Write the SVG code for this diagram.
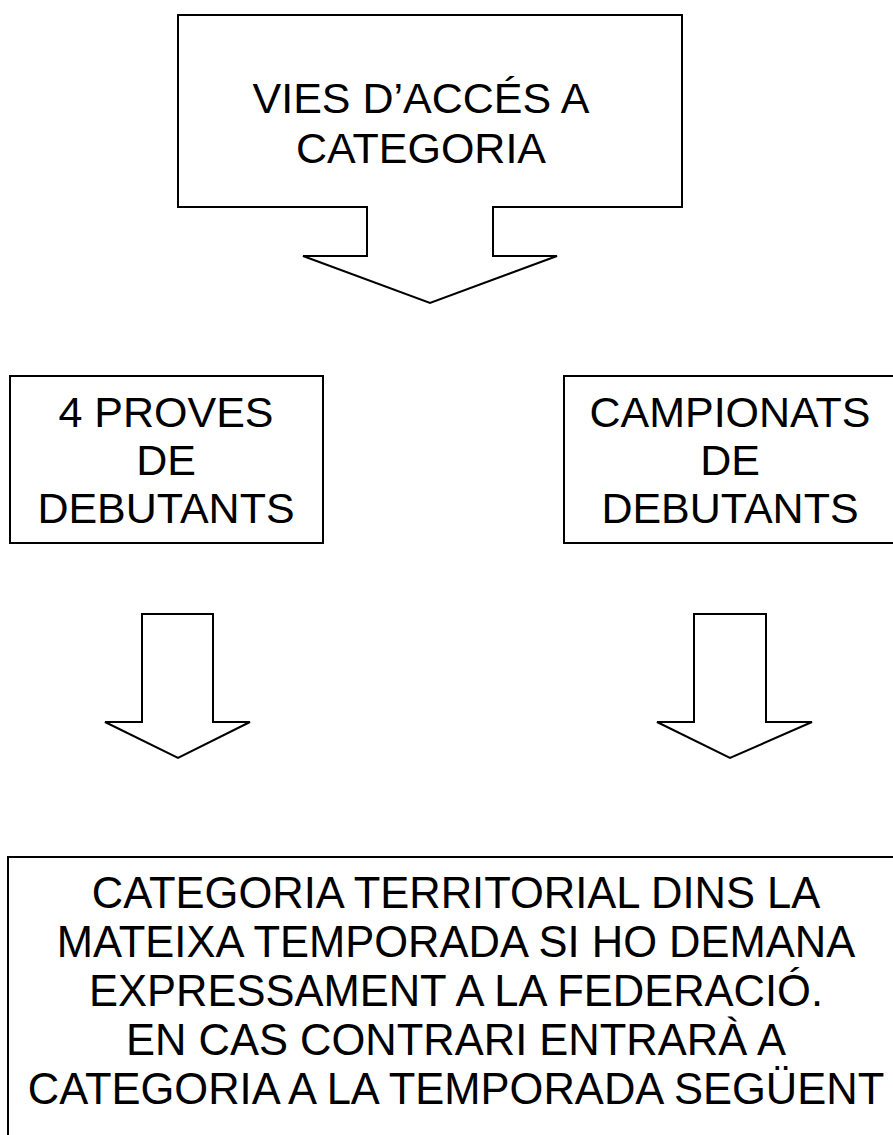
<svg xmlns="http://www.w3.org/2000/svg" width="893" height="1135" viewBox="0 0 893 1135">
<style>
.shape{fill:#fff;stroke:#000;stroke-width:2;stroke-linejoin:miter}
.t{font-family:"Liberation Sans",Arial,sans-serif;font-size:43px;fill:#000;text-anchor:middle}
.b{font-size:43.5px}
</style>
<rect width="893" height="1135" fill="#fff"/>
<g id="node-vies">
<path class="shape" d="M178,15 H682 V207 H493 V256 H557 L430,303 L303,256 H367 V207 H178 Z"/>
<text class="t" x="421" y="113">VIES D’ACCÉS A</text>
<text class="t" x="421" y="163">CATEGORIA</text>
</g>
<g id="node-proves">
<rect class="shape" x="10" y="376" width="313" height="167"/>
<text class="t" x="166" y="427">4 PROVES</text>
<text class="t" x="166" y="475">DE</text>
<text class="t" x="166" y="523">DEBUTANTS</text>
</g>
<g id="node-campionats">
<rect class="shape" x="564" y="376" width="330" height="167"/>
<text class="t" x="730" y="427">CAMPIONATS</text>
<text class="t" x="730" y="475">DE</text>
<text class="t" x="730" y="523">DEBUTANTS</text>
</g>
<g id="connectors">
<path class="shape" d="M142,614 H213 V722 H250 L178,758 L105,722 H142 Z"/>
<path class="shape" d="M694,614 H766 V722 H812 L730,758 L657,722 H694 Z"/>
</g>
<g id="node-categoria">
<rect class="shape" x="8" y="857" width="886" height="290"/>
<text class="t b" x="456" y="908">CATEGORIA TERRITORIAL DINS LA</text>
<text class="t b" x="456" y="957">MATEIXA TEMPORADA SI HO DEMANA</text>
<text class="t b" x="456" y="1006">EXPRESSAMENT A LA FEDERACIÓ.</text>
<text class="t b" x="456" y="1055">EN CAS CONTRARI ENTRARÀ A</text>
<text class="t b" x="456" y="1104">CATEGORIA A LA TEMPORADA SEGÜENT</text>
</g>
</svg>
